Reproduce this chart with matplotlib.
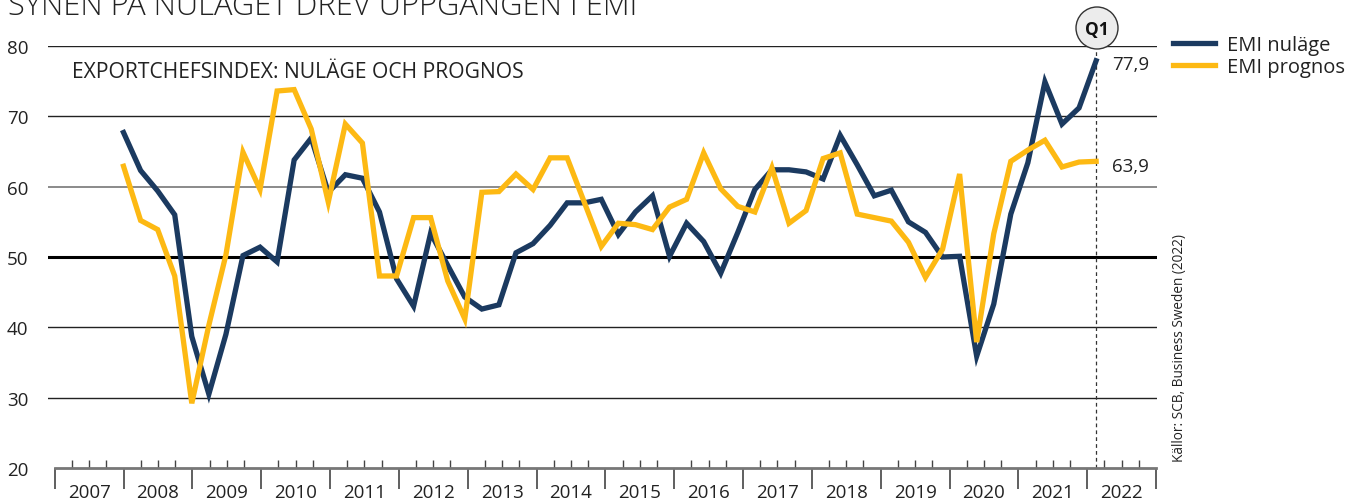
import numpy as np
import matplotlib
matplotlib.use("Agg")
import matplotlib.pyplot as plt
from matplotlib.patches import Circle
from matplotlib.transforms import blended_transform_factory

plt.rcParams['font.family'] = ['Open Sans', 'DejaVu Sans']

# Quarterly data, 2007 Q4 .. 2022 Q1
emi_nulage = [67.7, 62.3, 59.4, 56.0, 38.7, 30.5, 39.0, 50.2, 51.4, 49.3,
              63.8, 66.9, 59.2, 61.7, 61.2, 56.4, 46.9, 43.0, 53.4, 48.8,
              44.3, 42.6, 43.2, 50.6, 51.9, 54.5, 57.7, 57.7, 58.2, 53.2,
              56.4, 58.7, 50.1, 54.8, 52.2, 47.7, 53.5, 59.6, 62.4, 62.4,
              62.1, 61.1, 67.3, 63.1, 58.7, 59.5, 55.0, 53.5, 50.0, 50.1,
              35.9, 43.3, 56.1, 63.4, 74.9, 68.9, 71.2, 77.9]
emi_prognos = [62.9, 55.2, 53.9, 47.3, 29.2, 40.3, 50.3, 64.9, 59.6, 73.6,
               73.8, 68.2, 57.8, 68.9, 66.2, 47.3, 47.3, 55.6, 55.6, 46.6,
               41.2, 59.2, 59.3, 61.8, 59.6, 64.1, 64.1, 57.8, 51.5, 54.8,
               54.6, 53.9, 57.1, 58.2, 64.8, 59.7, 57.2, 56.4, 62.7, 54.8,
               56.6, 64.0, 64.8, 56.1, 55.6, 55.1, 52.1, 47.1, 51.1, 61.8,
               37.9, 53.3, 63.6, 65.2, 66.6, 62.8, 63.5, 63.6]
years = list(range(2007, 2023))
yticks = [20, 30, 40, 50, 60, 70, 80]
end_labels = ['77,9', '63,9']

navy = '#1b3a60'
yellow = '#fdb913'

W, H = 1352, 502
fig = plt.figure(figsize=(W / 100, H / 100), dpi=100)

ax_l, ax_r, ax_t, ax_b = 48, 1157, 47, 469
ax = fig.add_axes([ax_l / W, 1 - ax_b / H, (ax_r - ax_l) / W, (ax_b - ax_t) / H])
ax.set_ylim(20, 80)
px_per_year = (1156 - 54.7) / 16
ax.set_xlim(2007 - (54.7 - ax_l) / px_per_year, 2023 + (ax_r - 1156) / px_per_year)

n = len(emi_nulage)
x = np.linspace(2008.0, 2022.13, n)

# grid lines
for v in [30, 40, 70, 80]:
    ax.axhline(v, color='#222222', lw=1.0, zorder=1)
ax.axhline(60, color='#777777', lw=1.2, zorder=1)
ax.axhline(50, color='#000000', lw=2.2, zorder=1)

ax.plot(x, emi_nulage, color=navy, lw=3.8, solid_joinstyle='miter', zorder=3, label='EMI nuläge')
ax.plot(x, emi_prognos, color=yellow, lw=3.8, solid_joinstyle='miter', zorder=4, label='EMI prognos')

# dashed marker line at last quarter
ax.plot([x[-1], x[-1]], [20, 79.3], color='#333333', lw=0.9, ls=(0, (3, 2.5)), zorder=2)

for s in ['top', 'right', 'left']:
    ax.spines[s].set_visible(False)
ax.spines['bottom'].set_bounds(2007, 2023)
ax.spines['bottom'].set_color('#777777')
ax.spines['bottom'].set_linewidth(2.0)

ax.set_yticks(yticks)
ax.set_yticklabels([str(v) for v in yticks], fontsize=13.5, color='#222222')
ax.tick_params(axis='y', length=0, pad=14)
ax.set_xticks(years + [2023])
ax.set_xticklabels([])
ax.set_xticks(np.arange(2007, 2023, 0.25), minor=True)
ax.tick_params(axis='x', which='major', direction='out', length=15, width=1.2, color='#444444')
ax.tick_params(axis='x', which='minor', direction='in', length=5.5, width=1.0, color='#444444')

trans = blended_transform_factory(ax.transData, fig.transFigure)
for yr in years:
    ax.text(yr + 0.5, 1 - 493 / H, str(yr), transform=trans, ha='center', va='center',
            fontsize=13.5, color='#222222')

# end labels
ax.text(x[-1] + 0.23, emi_nulage[-1] - 0.4, end_labels[0], ha='left', va='center', fontsize=13.5, color='#222222')
ax.text(x[-1] + 0.23, emi_prognos[-1] - 0.6, end_labels[1], ha='left', va='center', fontsize=13.5, color='#222222')

# Q1 circle
circ_ax = fig.add_axes([0, 0, 1, 1], facecolor='none')
circ_ax.set_xlim(0, W)
circ_ax.set_ylim(H, 0)
circ_ax.axis('off')
circ_ax.set_aspect('equal')
circ_ax.add_patch(Circle((1097, 29), 21, facecolor='#ececec', edgecolor='#333333', lw=1.0))
circ_ax.text(1097, 30, 'Q1', ha='center', va='center', fontsize=12.5, fontweight='bold', color='#111111')

# titles
fig.text(8 / W, 1 - 15 / H, 'SYNEN PÅ NULÄGET DREV UPPGÅNGEN I EMI', ha='left', va='baseline',
         fontsize=22.2, fontweight='light', color='#222222')
ax.text(72 / W, 1 - 78 / H, 'EXPORTCHEFSINDEX: NULÄGE OCH PROGNOS', transform=fig.transFigure,
        ha='left', va='baseline', fontsize=15.2, color='#222222')

# legend
leg = fig.legend(loc='upper left', bbox_to_anchor=(1173 / W, 1 - 36 / H), frameon=False,
                 fontsize=14.5, handlelength=2.1, handletextpad=0.6, labelspacing=0.1,
                 borderaxespad=0, borderpad=0)
for t in leg.get_texts():
    t.set_color('#222222')

fig.text(1180 / W, 1 - 462 / H, 'Källor: SCB, Business Sweden (2022)', rotation=90,
         ha='center', va='bottom', fontsize=9.8, color='#222222')

fig.savefig('out.png', dpi=100)
